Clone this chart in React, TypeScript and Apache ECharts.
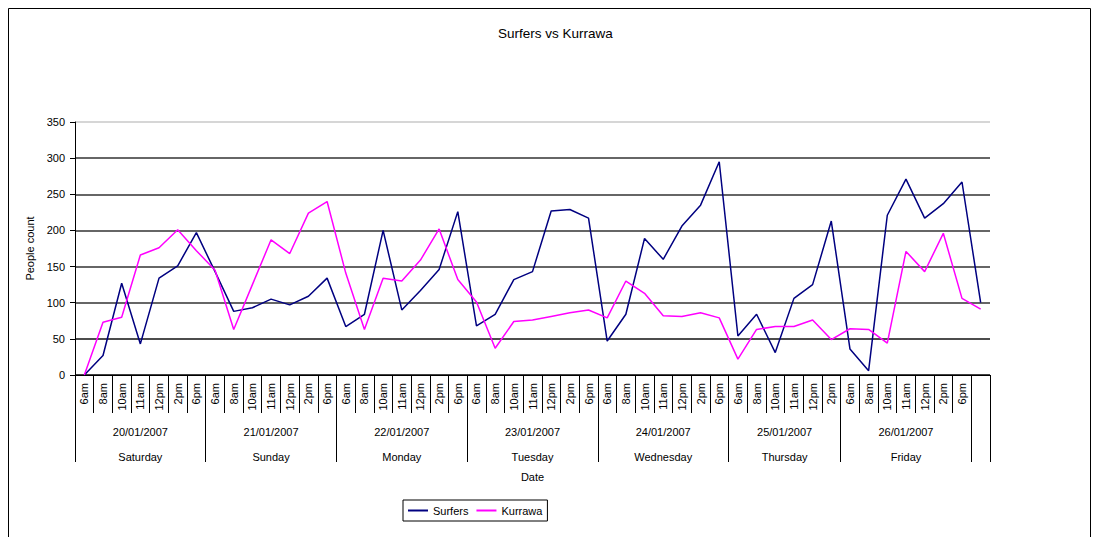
import React, { useEffect, useRef } from "react";
import * as echarts from "echarts";

const fullDay = ["6am", "8am", "10am", "11am", "12pm", "2pm", "6pm"];
const thursdayTimes = ["6am", "8am", "10am", "11am", "12pm", "2pm"];
const dayTimes = [fullDay, fullDay, fullDay, fullDay, fullDay, thursdayTimes, fullDay, [""]];
const dates = ["20/01/2007", "21/01/2007", "22/01/2007", "23/01/2007", "24/01/2007", "25/01/2007", "26/01/2007", ""];
const weekdays = ["Saturday", "Sunday", "Monday", "Tuesday", "Wednesday", "Thursday", "Friday", ""];

const surfers = [
  0, 27, 127, 43, 134, 151, 197,
  143, 88, 93, 105, 97, 109, 134,
  67, 84, 200, 90, 117, 146, 226,
  68, 84, 132, 143, 227, 229, 217,
  47, 84, 189, 160, 206, 235, 295,
  54, 84, 31, 106, 125, 213,
  36, 6, 221, 271, 217, 237, 267,
  100,
];
const kurrawa = [
  0, 73, 80, 166, 176, 201, 172,
  145, 63, 125, 187, 168, 224, 240,
  141, 63, 134, 130, 159, 202, 132,
  101, 37, 74, 76, 81, 86, 90,
  79, 130, 113, 82, 81, 86, 79,
  22, 63, 67, 67, 76, 49,
  64, 63, 44, 171, 143, 196, 106,
  91,
];

const FONT = "Arial, 'Liberation Sans', sans-serif";

export default function App() {
  const ref = useRef<HTMLDivElement>(null);
  useEffect(() => {
    if (!ref.current) return;
    const chart = echarts.init(ref.current, undefined, { renderer: "svg" });

    const categories: string[] = dayTimes.flat();
    const n = categories.length;
    const groupData: string[] = new Array(2 * n + 1).fill("");
    const boundaries: number[] = [0];
    let start = 0;
    dayTimes.forEach((g, gi) => {
      const size = g.length;
      if (dates[gi]) groupData[start * 2 + size] = dates[gi] + "\n" + weekdays[gi];
      start += size;
      boundaries.push(start * 2);
    });

    chart.setOption({
      animation: false,
      title: {
        text: "Surfers vs Kurrawa",
        left: 490,
        top: 18,
        padding: 0,
        textStyle: { fontSize: 13.5, fontWeight: "normal", color: "#000", fontFamily: FONT },
      },
      legend: {
        left: 395,
        top: 492,
        padding: [4, 5, 4, 5],
        itemWidth: 20,
        itemHeight: 2,
        itemGap: 8,
        borderColor: "#000",
        borderWidth: 1,
        textStyle: { fontSize: 11, color: "#000", fontFamily: FONT, lineHeight: 13 },
        data: [
          { name: "Surfers", icon: "rect" },
          { name: "Kurrawa", icon: "rect" },
        ],
      },
      graphic: [
        {
          type: "rect",
          shape: { x: 0.5, y: 0.5, width: 1082, height: 700 },
          style: { fill: "none", stroke: "#000", lineWidth: 1 },
          silent: true,
        },
      ],
      grid: { left: 67, top: 114, width: 915, height: 253, outerBoundsMode: "none" },
      xAxis: [
        {
          type: "category",
          position: "bottom",
          data: categories,
          boundaryGap: true,
          axisLine: { show: true, lineStyle: { color: "#000", width: 1 } },
          axisTick: { show: true, interval: 0, length: 38, lineStyle: { color: "#000", width: 1 } },
          axisLabel: {
            interval: 0,
            rotate: 90,
            margin: 8,
            fontSize: 11,
            color: "#000",
            fontFamily: FONT,
          },
          splitLine: { show: false },
        },
        {
          type: "category",
          position: "bottom",
          data: groupData,
          boundaryGap: false,
          axisLine: { show: false },
          axisTick: {
            show: true,
            length: 87,
            interval: (i: number) => boundaries.includes(i),
            lineStyle: { color: "#000", width: 1 },
          },
          axisLabel: {
            interval: (_i: number, v: string) => v !== "",
            margin: 44,
            fontSize: 11,
            lineHeight: 25,
            color: "#000",
            fontFamily: FONT,
          },
          splitLine: { show: false },
          name: "Date",
          nameLocation: "middle",
          nameGap: 96,
          nameTextStyle: { fontSize: 11, color: "#000", fontFamily: FONT },
        },
      ],
      yAxis: {
        type: "value",
        min: 0,
        max: 350,
        interval: 50,
        name: "People count",
        nameLocation: "middle",
        nameGap: 30,
        nameTextStyle: { fontSize: 11, color: "#000", fontFamily: FONT },
        axisLine: { show: true, lineStyle: { color: "#000", width: 1 } },
        axisTick: { show: true, length: 5, lineStyle: { color: "#000" } },
        axisLabel: { fontSize: 11, color: "#000", margin: 10, fontFamily: FONT },
        splitLine: {
          show: true,
          lineStyle: {
            color: ["#000", "#111", "#333", "#333", "#333", "#333", "#333", "#c8c8c8"],
            width: 1.5,
          },
        },
      },
      series: [
        {
          name: "Surfers",
          type: "line",
          data: surfers,
          symbol: "none",
          lineStyle: { color: "#000080", width: 1.5 },
          itemStyle: { color: "#000080" },
        },
        {
          name: "Kurrawa",
          type: "line",
          data: kurrawa,
          symbol: "none",
          lineStyle: { color: "#ff00ff", width: 1.5 },
          itemStyle: { color: "#ff00ff" },
        },
      ],
    });
    return () => chart.dispose();
  }, []);

  return (
    <div
      ref={ref}
      style={{ position: "absolute", left: 8, top: 8, width: 1083, height: 529 }}
    />
  );
}
